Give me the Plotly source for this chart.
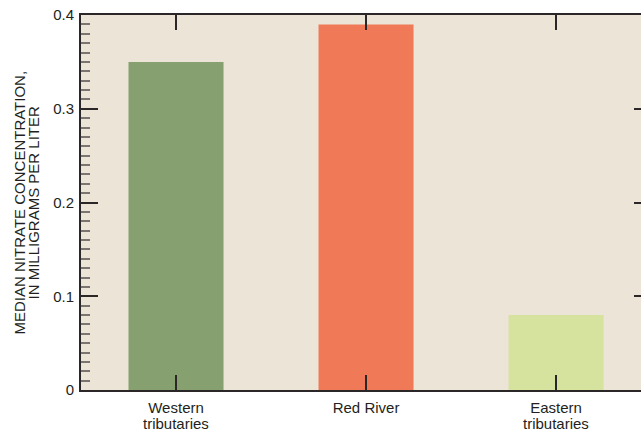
import plotly.graph_objects as go

categories = ["Western tributaries", "Red River", "Eastern tributaries"]
values = [0.35, 0.39, 0.08]
colors = ["#86A070", "#F07A57", "#D6E39E"]
label_line1 = ["Western", "Red River", "Eastern"]
label_line2 = ["tributaries", "", "tributaries"]
ytick_vals = [0, 0.1, 0.2, 0.3, 0.4]
ytick_text = ["0", "0.1", "0.2", "0.3", "0.4"]
ytitle_lines = ["MEDIAN NITRATE CONCENTRATION,", "IN MILLIGRAMS PER LITER"]

ink = "#2B2627"
txt = "#231F20"
font = "Liberation Sans, Arial, sans-serif"

fig = go.Figure()
fig.add_trace(go.Bar(x=categories, y=values, marker=dict(color=colors, line=dict(width=0)),
                     width=0.5, showlegend=False, hoverinfo="skip"))
# invisible trace to anchor right-side tick axis
fig.add_trace(go.Scatter(x=[categories[0]], y=[0], yaxis="y2", mode="markers",
                         marker=dict(opacity=0), showlegend=False, hoverinfo="skip"))

# second line of category labels
for cat, l2 in zip(categories, label_line2):
    if l2:
        fig.add_annotation(x=cat, xref="x", y=0, yref="paper", text=l2, showarrow=False,
                           yanchor="top", yshift=-23, font=dict(size=15, family=font, color=txt))

# y-axis title (two lines, tight leading)
for i, line in enumerate(ytitle_lines):
    fig.add_annotation(x=0, xref="paper", y=0.5, yref="paper", text=line, showarrow=False,
                       textangle=-90, xanchor="center", yanchor="middle",
                       xshift=-62 + i * 14, font=dict(size=15, family=font, color=txt))

fig.update_layout(
    width=641, height=429,
    margin=dict(l=81, r=0, t=15, b=39, autoexpand=False),
    paper_bgcolor="white",
    plot_bgcolor="#EDE4D8",
    font=dict(family=font, size=15, color=txt),
    bargap=0.5,
    xaxis=dict(
        type="category", range=[-0.5, 2.447], automargin=False,
        tickvals=categories, ticktext=label_line1,
        showline=True, linecolor=ink, linewidth=2, mirror="ticks",
        ticks="inside", ticklen=15, tickwidth=1.5, tickcolor=ink,
        showgrid=False, tickfont=dict(size=15, family=font, color=txt),
        ticklabelstandoff=3,
    ),
    yaxis=dict(
        range=[0, 0.4], tickvals=ytick_vals, ticktext=ytick_text, automargin=False,
        showline=True, linecolor=ink, linewidth=2,
        ticks="inside", ticklen=17, tickwidth=1.5, tickcolor=ink,
        minor=dict(dtick=0.01, tick0=0, ticks="inside", ticklen=9, tickwidth=1.5, tickcolor="#7A7472", showgrid=False),
        showgrid=False, zeroline=False, tickfont=dict(size=15, family=font, color=txt),
        ticklabelstandoff=2,
    ),
    yaxis2=dict(
        range=[0, 0.4], overlaying="y", side="right", tickvals=[0.1, 0.2, 0.3],
        showticklabels=False, ticks="inside", ticklen=7, tickwidth=1.5, tickcolor=ink,
        showgrid=False, zeroline=False, showline=False, automargin=False,
    ),
)

fig.write_html("out.html", config={"displayModeBar": False},
               post_script="document.body.style.margin='0';document.body.style.overflow='hidden';")
